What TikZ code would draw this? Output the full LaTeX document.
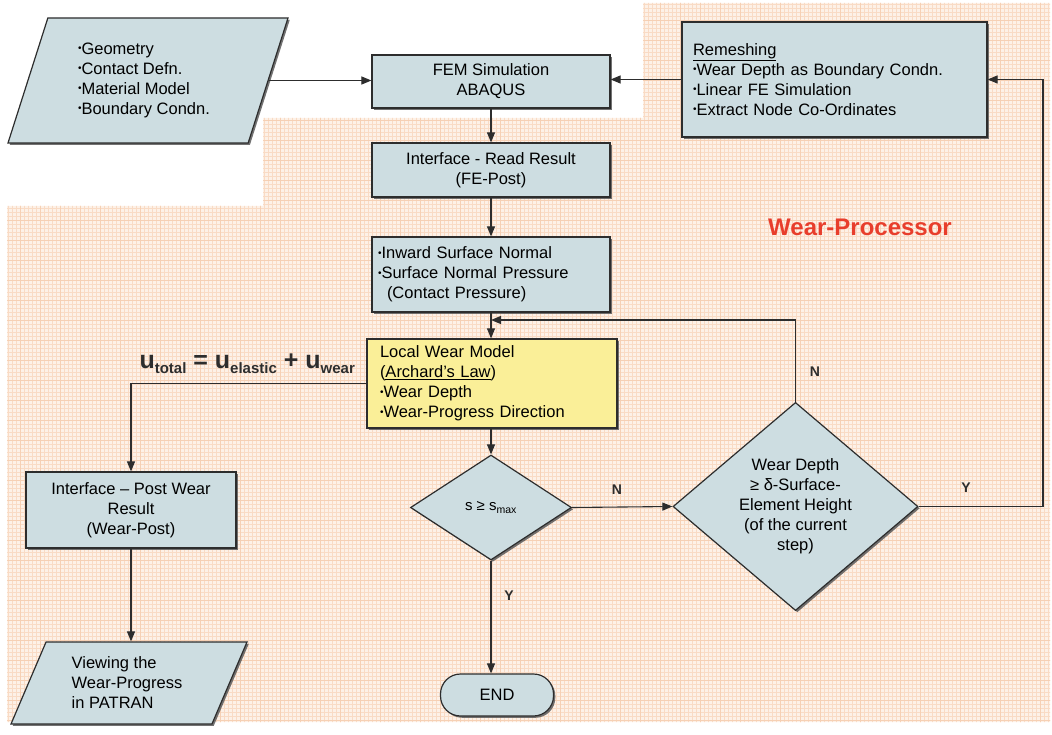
\documentclass[tikz,border=0pt]{standalone}
\usepackage{fontspec}
\setmainfont{Liberation Sans}
\usetikzlibrary{shapes.geometric,arrows.meta,shadows}
\definecolor{boxfill}{RGB}{205,221,225}
\definecolor{yellowfill}{RGB}{250,239,152}
\definecolor{edge}{RGB}{45,45,45}
\definecolor{paper}{RGB}{253,241,231}
\definecolor{gridfine}{RGB}{249,219,197}
\definecolor{gridcoarse}{RGB}{246,208,180}
\definecolor{wpred}{RGB}{232,62,44}
\newcommand\bt{\raisebox{0.3ex}{\fontsize{10}{10}\selectfont •}}
\newcommand\eqsub[1]{\raisebox{-5pt}{\fontsize{15}{15}\selectfont #1}}
\begin{document}
\begin{tikzpicture}[x=1pt,y=-1pt,
  base/.style={draw=edge, line width=1.2pt, inner sep=0pt,
    font=\fontsize{16.5}{20}\selectfont,
    drop shadow={shadow xshift=1.8pt, shadow yshift=-1.8pt, fill=black!65, opacity=0.85}},
  procbox/.style={base, rectangle, fill=boxfill},
  wearbox/.style={base, rectangle, fill=yellowfill},
  iobox/.style={base, trapezium, fill=boxfill, trapezium stretches body},
  decision/.style={base, diamond, fill=boxfill},
  arr/.style={draw=edge, line width=1.1pt, -{Triangle[length=10pt,width=8pt]}},
  lbl/.style={font=\bfseries\fontsize{14}{16}\selectfont, text=edge}
]
\useasboundingbox (0,0) rectangle (1052,735);

% grid paper behind the wear-processor stages
\def\region{(643,3) -- (1050,3) -- (1050,722) -- (7,722) -- (7,206) -- (263,206) -- (263,118) -- (643,118) -- cycle}
\fill[paper] \region;
\begin{scope}
  \clip \region;
  \draw[gridfine, line width=0.4pt, step=4pt] (0,0) grid (1052,735);
  \draw[gridcoarse, line width=0.5pt, step=20pt] (0,0) grid (1052,735);
\end{scope}

% input data
\node[iobox, trapezium left angle=62, trapezium right angle=118,
      minimum width=280pt, minimum height=125pt, align=left] (geo) at (148,80.5)
  {\hspace*{-8pt}\bt Geometry\\ \hspace*{-8pt}\bt Contact Defn.\\ \hspace*{-8pt}\bt Material Model\\ \hspace*{-8pt}\bt Boundary Condn.};

% main chain
\node[procbox, minimum width=238pt, minimum height=53pt, align=center] (fem) at (491,81.5)
  {FEM Simulation\\ABAQUS};
\node[procbox, minimum width=238pt, minimum height=54pt, align=center] (read) at (491,170)
  {Interface - Read Result\\(FE-Post)};
\node[procbox, minimum width=238pt, minimum height=75pt, text width=226pt, align=left] (inward) at (491,274.5)
  {\bt Inward Surface Normal\\ \bt Surface Normal Pressure\\ \hspace*{9pt}(Contact Pressure)};
\node[wearbox, minimum width=250pt, minimum height=89pt, text width=224pt, align=left] (local) at (492,383.5)
  {Local Wear Model\\(\underline{Archard's Law})\\ \bt Wear Depth\\ \bt Wear-Progress Direction};
\node[decision, minimum width=161pt, minimum height=105pt, font=\fontsize{15}{18}\selectfont] (smax) at (491,507.5)
  {s ≥ s\textsubscript{max}};
\node[decision, minimum width=245pt, minimum height=203pt, align=center] (wd) at (795.5,506.5)
  {Wear Depth\\≥ δ-Surface-\\Element Height\\(of the current\\step)};
\node[procbox, rounded corners=20pt, minimum width=113pt, minimum height=42pt] (end) at (497,695) {END};

% remeshing
\node[procbox, minimum width=305pt, minimum height=115pt, text width=283pt, align=left] (remesh) at (834.5,79.5)
  {\underline{Remeshing}\\ \bt Wear Depth as Boundary Condn.\\ \bt Linear FE Simulation\\ \bt Extract Node Co-Ordinates};

% post processing
\node[procbox, minimum width=210pt, minimum height=76pt, align=center] (post) at (131,510)
  {Interface – Post Wear\\Result\\(Wear-Post)};
\node[iobox, trapezium left angle=56, trapezium right angle=124,
      minimum width=236pt, minimum height=82pt, align=left] (view) at (129,683)
  {\hspace*{-4pt}Viewing the\\ \hspace*{-4pt}Wear-Progress\\ \hspace*{-4pt}in PATRAN};

% titles and labels
\node[font=\bfseries\fontsize{24}{26}\selectfont, text=wpred] (wp) at (860,227) {Wear-Processor};
\node[anchor=base west, font=\bfseries\fontsize{25}{28}\selectfont, text=edge] (eq) at (136,368)
  {u\eqsub{total} = u\eqsub{elastic} + u\eqsub{wear}};
\node[lbl] (lblN1) at (617,490) {N};
\node[lbl] (lblN2) at (815,372) {N};
\node[lbl] (lblY1) at (966,488) {Y};
\node[lbl] (lblY2) at (509,596) {Y};

% connectors
\coordinate (loopin) at (491,320);
\coordinate (rail) at (1043,0);
\draw[arr] (geo.east) -- (geo.east -| fem.west);
\draw[arr] (fem) -- (read);
\draw[arr] (read) -- (inward);
\draw[arr] (inward.south) -- (inward.south |- local.north);
\draw[arr] (smax.north |- local.south) -- (smax.north);
\draw[arr] (smax.east) -- (wd.west);
\draw[arr] (wd.north) |- (loopin);
\draw[arr] (wd.east) -- (wd.east -| rail) |- (remesh.east);
\draw[arr] (remesh.west) -- (remesh.west -| fem.east);
\draw[arr] (smax.south) -- (smax.south |- end.north);
\draw[arr] (local.west) -| (post.north);
\draw[arr] (post.south) -- (post.south |- view.north);
\end{tikzpicture}
\end{document}
